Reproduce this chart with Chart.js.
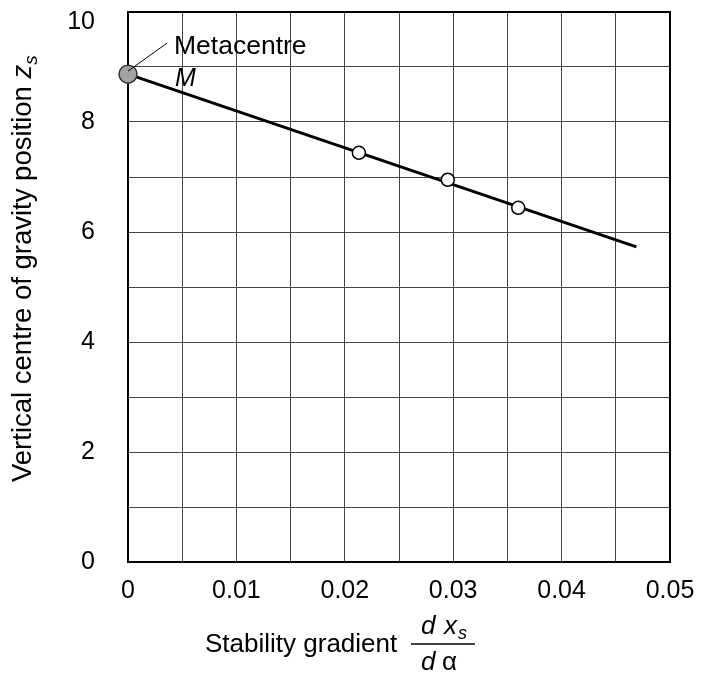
<!DOCTYPE html>
<html><head><meta charset="utf-8">
<script src="https://cdn.jsdelivr.net/npm/chart.js@4.4.0/dist/chart.umd.min.js"></script>
<style>html,body{margin:0;padding:0;background:#fff}#wrap{width:705px;height:677px;position:relative}</style>
</head><body><div id="wrap"><canvas id="c" width="705" height="677"></canvas></div>
<script>
// ---- data ----
const metacentreX = [0];
const metacentreY = [8.87];
const pointX = [0.0213, 0.0295, 0.0360];
const pointY = [7.44, 6.95, 6.44];
const lineX = [0, 0.0469];
const lineY = [8.87, 5.73];
const xTickLabels = [0, 0.01, 0.02, 0.03, 0.04, 0.05];
const yTickLabels = [0, 2, 4, 6, 8, 10];
const annotationText = "Metacentre";
const annotationSymbol = "M";
const xTitle = "Stability gradient";
const yTitle = "Vertical centre of gravity position ";

const FONT = "'Liberation Sans', Arial, sans-serif";
const zip = (xs, ys) => xs.map((x, i) => ({x, y: ys[i]}));

const decorPlugin = {
  id: 'decor',
  beforeDatasetsDraw(chart) {
    const {ctx, chartArea: a} = chart;
    ctx.save();
    ctx.strokeStyle = '#000';
    ctx.lineWidth = 2;
    ctx.strokeRect(a.left, a.top, a.right - a.left, a.bottom - a.top);
    ctx.restore();
  },
  afterDatasetsDraw(chart) {
    const {ctx} = chart;
    const xs = chart.scales.x, ys = chart.scales.y;
    const mx = xs.getPixelForValue(metacentreX[0]);
    const my = ys.getPixelForValue(metacentreY[0]);
    ctx.save();
    ctx.strokeStyle = '#000';
    ctx.lineWidth = 1;
    ctx.beginPath();
    ctx.moveTo(mx, my - 3);
    ctx.lineTo(mx + 39, my - 31);
    ctx.stroke();
    ctx.fillStyle = '#000';
    ctx.textBaseline = 'alphabetic';
    ctx.textAlign = 'left';
    ctx.font = '26.5px ' + FONT;
    ctx.fillText(annotationText, mx + 46, my - 20);
    ctx.font = 'italic 25px ' + FONT;
    ctx.fillText(annotationSymbol, mx + 47, my + 12);
    ctx.restore();
  },
  afterDraw(chart) {
    const {ctx} = chart;
    ctx.save();
    ctx.fillStyle = '#000';
    ctx.strokeStyle = '#000';
    ctx.textBaseline = 'alphabetic';
    ctx.textAlign = 'left';
    // x title
    ctx.font = '26px ' + FONT;
    ctx.fillText(xTitle, 205, 652);
    // fraction
    ctx.lineWidth = 1.5;
    ctx.beginPath();
    ctx.moveTo(411, 644);
    ctx.lineTo(475, 644);
    ctx.stroke();
    ctx.font = 'italic 26px ' + FONT;
    ctx.fillText('d', 421, 634);
    ctx.fillText('x', 444, 634);
    ctx.font = 'italic 18px ' + FONT;
    ctx.fillText('s', 458, 639);
    ctx.font = 'italic 26px ' + FONT;
    ctx.fillText('d', 421, 670);
    ctx.font = '26px ' + FONT;
    ctx.fillText('\u03B1', 442, 670);
    // y title
    ctx.translate(31, 482);
    ctx.rotate(-Math.PI / 2);
    ctx.font = '27.5px ' + FONT;
    ctx.fillText(yTitle, 0, 0);
    let w = ctx.measureText(yTitle).width;
    ctx.font = 'italic 27.5px ' + FONT;
    ctx.fillText('z', w, 0);
    w += ctx.measureText('z').width;
    ctx.font = 'italic 19px ' + FONT;
    ctx.fillText('s', w, 6);
    ctx.restore();
  }
};

const near = (v, arr) => arr.find(t => Math.abs(t - v) < 1e-9);

new Chart(document.getElementById('c'), {
  type: 'scatter',
  data: {
    datasets: [
      {
        label: 'Metacentre',
        data: zip(metacentreX, metacentreY),
        pointRadius: 9, pointHoverRadius: 9,
        pointBackgroundColor: '#a3a3a3',
        pointBorderColor: '#333',
        pointBorderWidth: 1.5,
        showLine: false, clip: false, order: 0
      },
      {
        label: 'Points',
        data: zip(pointX, pointY),
        pointRadius: 6.5, pointHoverRadius: 6.5,
        pointBackgroundColor: '#fff',
        pointBorderColor: '#000',
        pointBorderWidth: 1.5,
        showLine: false, clip: false, order: 1
      },
      {
        label: 'Line',
        data: zip(lineX, lineY),
        showLine: true,
        borderColor: '#000',
        borderWidth: 3,
        pointRadius: 0, pointHoverRadius: 0,
        clip: false, order: 2
      }
    ]
  },
  options: {
    responsive: false,
    animation: false,
    events: [],
    layout: {padding: {top: 12, right: 35, left: 0, bottom: 0}},
    plugins: {legend: {display: false}, tooltip: {enabled: false}},
    scales: {
      x: {
        type: 'linear', min: 0, max: 0.05,
        afterFit(s) { s.height = 115; s.paddingLeft = 0; s.paddingRight = 0; },
        afterBuildTicks(s) {
          const t = [];
          for (let i = 0; i <= 10; i++) t.push({value: i * 0.005});
          s.ticks = t;
        },
        ticks: {
          padding: 14,
          color: '#000',
          font: {family: FONT, size: 25},
          maxRotation: 0,
          autoSkip: false,
          callback(v) { const t = near(v, xTickLabels); return t === undefined ? '' : String(t); }
        },
        grid: {color: '#444', lineWidth: 1, drawTicks: false},
        border: {color: '#000', width: 2}
      },
      y: {
        type: 'linear', min: 0, max: 10,
        afterFit(s) { s.width = 128; s.paddingTop = 0; s.paddingBottom = 0; },
        ticks: {
          stepSize: 1,
          padding: 33,
          color: '#000',
          font: {family: FONT, size: 25, lineHeight: 0.8},
          autoSkip: false,
          callback(v) {
            const t = near(v, yTickLabels);
            if (t === undefined) return '';
            return t === 10 ? ['', String(t)] : String(t);
          }
        },
        grid: {color: '#444', lineWidth: 1, drawTicks: false},
        border: {color: '#000', width: 2}
      }
    }
  },
  plugins: [decorPlugin]
});
</script>
</body></html>
